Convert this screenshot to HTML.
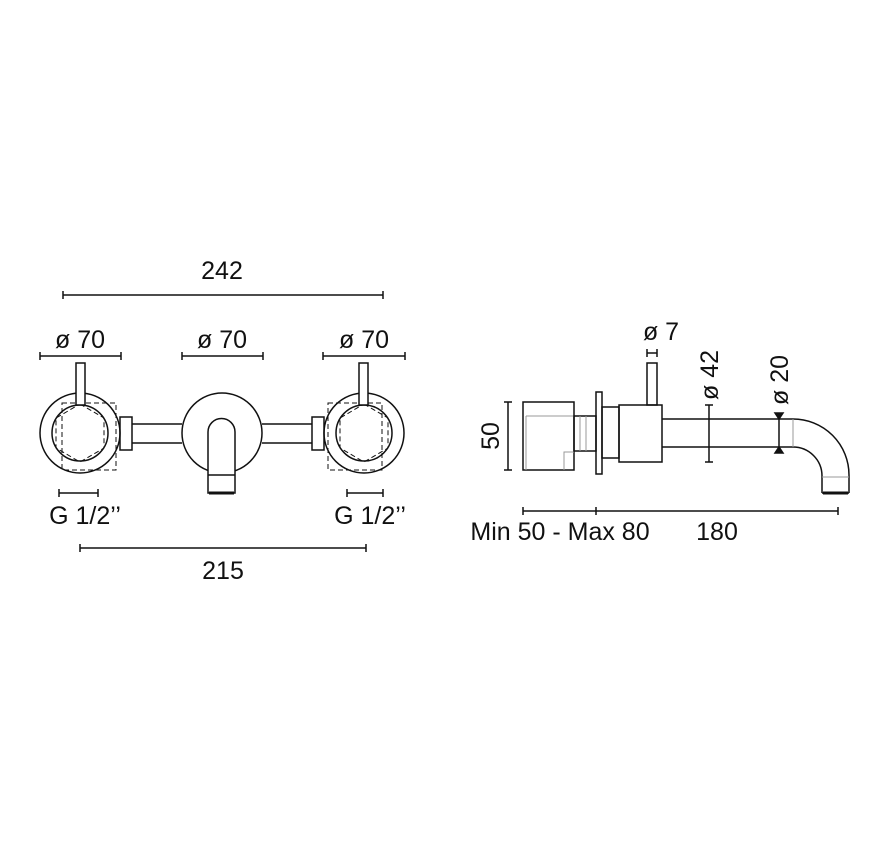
<!DOCTYPE html>
<html><head><meta charset="utf-8"><style>html,body{margin:0;padding:0;background:#fff}svg{display:block}</style></head><body>
<svg width="885" height="862" viewBox="0 0 885 862" xmlns="http://www.w3.org/2000/svg" font-family="Liberation Sans, sans-serif" font-size="25" fill="none" stroke="#111" stroke-width="1.5">
<g fill="#111" stroke="none" text-anchor="middle">
<text x="222" y="279">242</text>
<text x="80" y="348">ø 70</text>
<text x="222" y="348">ø 70</text>
<text x="364" y="348">ø 70</text>
<text x="85" y="524">G 1/2’’</text>
<text x="370" y="524">G 1/2’’</text>
<text x="223" y="579">215</text>
<text x="560" y="540">Min 50 - Max 80</text>
<text x="717" y="540">180</text>
<text x="661" y="340">ø 7</text>
<text transform="translate(499,436) rotate(-90)">50</text>
<text transform="translate(718,375) rotate(-90)">ø 42</text>
<text transform="translate(788,380) rotate(-90)">ø 20</text>
</g>
<path d="M63 295H383M63 291v8M383 291v8"/>
<path d="M40 356H121M40 352v8M121 352v8"/>
<path d="M182 356H263M182 352v8M263 352v8"/>
<path d="M323 356H405M323 352v8M405 352v8"/>
<path d="M59 493H98M59 489v8M98 489v8"/>
<path d="M347 493H383M347 489v8M383 489v8"/>
<path d="M80 548H366M80 544v8M366 544v8"/>
<path d="M523 511H838M523 507v8M596 507v8M838 507v8"/>
<path d="M508 402V470M504 402h8M504 470h8"/>
<path d="M647 353h10M647 349v8M657 349v8"/>
<path d="M709 405V462M705 405h8M705 462h8"/>
<path d="M779 413V453"/>
<path d="M775 413h8l-4 6zM775 453h8l-4 -6z" fill="#111"/>
<g>
<circle cx="80" cy="433" r="40"/><circle cx="80" cy="433" r="28"/>
<rect x="62" y="403" width="54" height="67" stroke-dasharray="5 3" stroke-width="1"/>
<path d="M80 404l24 14v30l-24 14l-24-14v-30z" stroke-dasharray="5 3" stroke-width="1"/>
<rect x="76" y="363" width="9" height="42" fill="#fff"/>
<rect x="120" y="417" width="12" height="33"/>
<circle cx="222" cy="433" r="40"/>
<path d="M132 424H182M132 443H182M262 424H312M262 443H312"/>
<circle cx="364" cy="433" r="40"/><circle cx="364" cy="433" r="28"/>
<rect x="328" y="403" width="54" height="67" stroke-dasharray="5 3" stroke-width="1"/>
<path d="M364 404l24 14v30l-24 14l-24-14v-30z" stroke-dasharray="5 3" stroke-width="1"/>
<rect x="359" y="363" width="9" height="42" fill="#fff"/>
<rect x="312" y="417" width="12" height="33"/>
<path d="M208 493V432a13.5 13.5 0 0 1 27 0V493Z" fill="#fff"/>
<path d="M208 475H235"/>
<path d="M209 493H234" stroke-width="3"/>
</g>
<g>
<rect x="523" y="402" width="51" height="68"/>
<path d="M526 416H574M526 416V470M574 452h-10v18" stroke="#999" stroke-width="1"/>
<rect x="574" y="416" width="22" height="35"/>
<path d="M580 416v35M586 416v35" stroke="#999" stroke-width="1"/>
<rect x="596" y="392" width="6" height="82"/>
<rect x="602" y="407" width="17" height="51"/>
<rect x="619" y="405" width="43" height="57"/>
<rect x="647" y="363" width="10" height="42"/>
<path d="M662 419H793A56 56 0 0 1 849 475V493M662 447H793A29 29 0 0 1 822 476V493M822 493H849"/>
<path d="M793 419V447M822 477H849" stroke="#999" stroke-width="1"/>
<path d="M823 493H848" stroke-width="3"/>
</g>
</svg>
</body></html>
